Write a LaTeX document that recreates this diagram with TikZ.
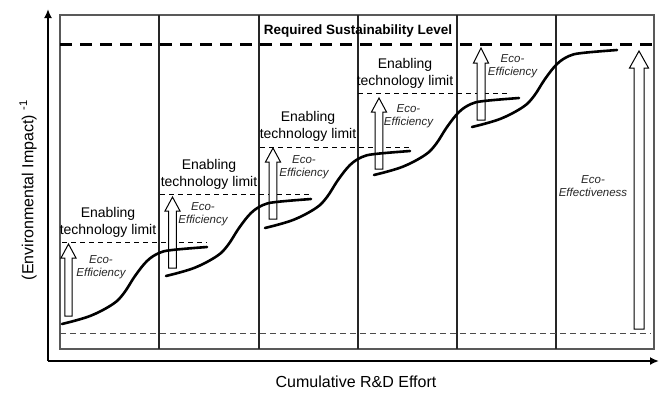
\documentclass[tikz,border=0pt]{standalone}
\usepackage{fontspec}
\setmainfont{Liberation Sans}
\usetikzlibrary{arrows.meta}
% x, tip y, bottom y, shaft half width, head half width, head height
\newcommand{\ublockarrow}[6]{%
  \draw[blockarrow] (#1-#4,#3) -- (#1-#4,#2+#6) -- (#1-#5,#2+#6) -- (#1,#2)
    -- (#1+#5,#2+#6) -- (#1+#4,#2+#6) -- (#1+#4,#3) -- cycle;}
\tikzset{
  frame/.style={draw=black!65, line width=1.1pt},
  divider/.style={draw=black!85, line width=1.1pt},
  axis/.style={line width=2.4pt, -{Latex[length=9pt,width=8pt]}},
  sustain/.style={line width=3pt, dash pattern=on 12pt off 8pt},
  limitline/.style={line width=0.9pt, dash pattern=on 5pt off 4pt},
  floorline/.style={line width=0.9pt, draw=black!70, dash pattern=on 6pt off 4pt},
  scurve/.style={line width=2.6pt, line cap=round},
  blockarrow/.style={draw=black, fill=white, line width=1pt, line join=miter},
  limittext/.style={font=\fontsize{14}{17}\selectfont, align=center, inner sep=0pt},
  ecotext/.style={font=\fontsize{11.5}{13}\selectfont\itshape, align=center, inner sep=0pt, text=black!85},
  stepcurve/.pic={\draw[scurve] plot[smooth, tension=0.6] coordinates
    {(0,0) (28,-8) (51,-20) (62,-31) (73,-48) (85,-63) (97,-71) (110,-74) (145,-77)};}
}
\begin{document}
\begin{tikzpicture}[x=1pt,y=-1pt]
\useasboundingbox (0,0) rectangle (660,392);
% frame and dividers
\draw[frame] (60,15) rectangle (654,349);
\foreach \xx in {159,259,358,457,556}
  \draw[divider] (\xx,15) -- (\xx,349);
% sustainability line and floor line
\draw[sustain] (60,44) -- (654,44);
\draw[floorline] (60,333) -- (651,333);
% enabling technology limits
\draw[limitline] (62,242) -- (207,242);
\draw[limitline] (160,194) -- (310,194);
\draw[limitline] (260,147) -- (409,147);
\draw[limitline] (358,93) -- (507,93);
% block arrows
\ublockarrow{68.5}{244}{316}{3.6}{7.5}{14}
\ublockarrow{172.5}{197}{268}{3.8}{7.5}{14}
\ublockarrow{273}{148}{219}{3.8}{7.5}{14}
\ublockarrow{379}{98}{169}{3.8}{7.5}{14}
\ublockarrow{481}{48}{120}{4}{7.5}{15}
\ublockarrow{639}{51}{329}{5}{9.5}{17}
% S-curves
\pic at (62,324) {stepcurve};
\pic at (166,276) {stepcurve};
\pic at (265,228) {stepcurve};
\pic at (374,175) {stepcurve};
\pic at (472,127) {stepcurve};
% texts
\node[font=\fontsize{13.5}{16}\selectfont\bfseries, inner sep=0pt] (req) at (358,31) {Required Sustainability Level};
\node[limittext] (lim1) at (108,222.5) {Enabling\\technology limit};
\node[limittext] (lim2) at (209,174) {Enabling\\technology limit};
\node[limittext] (lim3) at (308,126.5) {Enabling\\technology limit};
\node[limittext] (lim4) at (405,73.5) {Enabling\\technology limit};
\node[ecotext] (eco1) at (101,267.5) {Eco-\\Efficiency};
\node[ecotext] (eco2) at (203,214.5) {Eco-\\Efficiency};
\node[ecotext] (eco3) at (304,167) {Eco-\\Efficiency};
\node[ecotext] (eco4) at (408.5,116) {Eco-\\Efficiency};
\node[ecotext] (eco5) at (512.5,66.5) {Eco-\\Efficiency};
\node[ecotext] (ecoeff) at (593,186.5) {Eco-\\Effectiveness};
% axes
\coordinate (origin) at (48,361);
\coordinate (ytop) at (48,9);
\coordinate (xend) at (659,361);
\draw[axis] (origin) -- (ytop);
\draw[axis] (origin) -- (xend);
\node[font=\fontsize{16}{19}\selectfont, rotate=90, inner sep=0pt] (ylab) at (28,190) {(Environmental Impact) \textsuperscript{-1}};
\node[font=\fontsize{16}{19}\selectfont, inner sep=0pt] (xlab) at (356,382) {Cumulative R\&D Effort};
\end{tikzpicture}
\end{document}
